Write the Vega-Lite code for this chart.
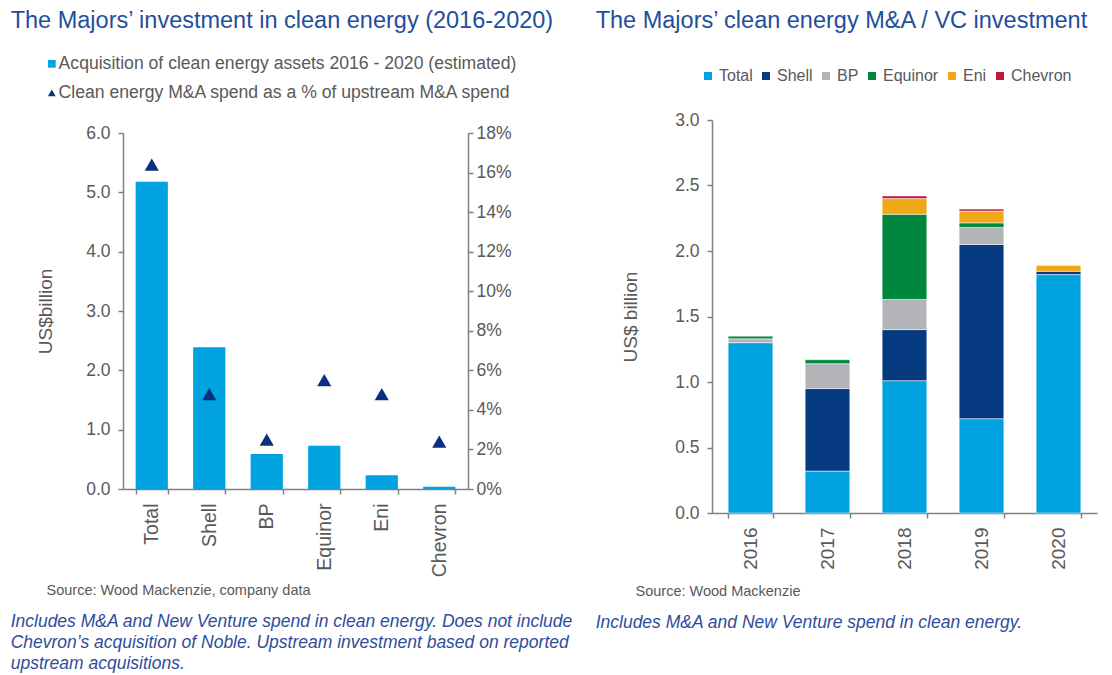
{
  "$schema": "https://vega.github.io/schema/vega-lite/v6.json",
  "background": "white",
  "padding": {"left": 10, "top": 8, "right": 5, "bottom": 5},
  "spacing": 22,
  "columns": 2,
  "align": "none",
  "resolve": {"scale": {"color": "independent", "shape": "independent"}, "legend": {"color": "independent", "shape": "independent"}},
  "config": {
    "font": "Liberation Sans",
    "view": {"stroke": null},
    "axis": {
      "labelFont": "Liberation Sans", "labelFontSize": 17.5, "labelColor": "#595959",
      "titleFont": "Liberation Sans", "titleFontSize": 19, "titleFontWeight": "normal", "titleColor": "#595959",
      "domainColor": "#808080", "tickColor": "#808080", "domainWidth": 1.5, "tickWidth": 1.5, "tickSize": 5, "grid": false
    },
    "legend": {"labelFont": "Liberation Sans", "labelFontSize": 17, "labelColor": "#595959", "labelLimit": 800},
    "title": {"font": "Liberation Sans"}
  },
  "concat": [
    {
      "title": {"text": "The Majors\u2019 investment in clean energy (2016-2020)", "anchor": "start", "fontSize": 23.5, "fontWeight": "normal", "color": "#1F4E9D", "offset": 23},
      "spacing": 0,
      "vconcat": [
        {"width": 10, "height": 14, "data": {"values": []}, "mark": {"type": "point"}, "encoding": {}},
        {
          "title": {
            "text": ["Includes M&A and New Venture spend in clean energy. Does not include", "Chevron\u2019s acquisition of Noble. Upstream investment based on reported", "upstream acquisitions."],
            "orient": "bottom", "anchor": "start", "fontSize": 17.5, "fontStyle": "italic", "fontWeight": "normal", "color": "#2E4D9B", "lineHeight": 21, "offset": 16, "dx": -26
          },
          "width": 345,
          "height": 356,
          "data": {"values": [
            {"company": "Total", "series": "Acquisition of clean energy assets 2016 - 2020 (estimated)", "value": 5.18},
            {"company": "Shell", "series": "Acquisition of clean energy assets 2016 - 2020 (estimated)", "value": 2.39},
            {"company": "BP", "series": "Acquisition of clean energy assets 2016 - 2020 (estimated)", "value": 0.59},
            {"company": "Equinor", "series": "Acquisition of clean energy assets 2016 - 2020 (estimated)", "value": 0.73},
            {"company": "Eni", "series": "Acquisition of clean energy assets 2016 - 2020 (estimated)", "value": 0.23},
            {"company": "Chevron", "series": "Acquisition of clean energy assets 2016 - 2020 (estimated)", "value": 0.04},
            {"company": "Total", "series": "Clean energy M&A spend as a % of upstream M&A spend", "value": 0.164},
            {"company": "Shell", "series": "Clean energy M&A spend as a % of upstream M&A spend", "value": 0.048},
            {"company": "BP", "series": "Clean energy M&A spend as a % of upstream M&A spend", "value": 0.025},
            {"company": "Equinor", "series": "Clean energy M&A spend as a % of upstream M&A spend", "value": 0.055},
            {"company": "Eni", "series": "Clean energy M&A spend as a % of upstream M&A spend", "value": 0.048},
            {"company": "Chevron", "series": "Clean energy M&A spend as a % of upstream M&A spend", "value": 0.024}
          ]},
          "encoding": {
            "x": {
              "field": "company", "type": "nominal", "sort": null,
              "scale": {"paddingInner": 0.44, "paddingOuter": 0.22},
              "axis": {"labelAngle": -90, "labelFontSize": 19.5, "labelPadding": 9, "tickBand": "extent", "title": "Source: Wood Mackenzie, company data", "titleFontSize": 14.5, "titleAnchor": "start", "titleAlign": "left", "titleX": -77, "titleY": 94, "titleBaseline": "top"}
            }
          },
          "layer": [
            {
              "transform": [{"filter": {"field": "series", "equal": "Acquisition of clean energy assets 2016 - 2020 (estimated)"}}],
              "mark": {"type": "bar"},
              "encoding": {
                "y": {"field": "value", "type": "quantitative", "scale": {"domain": [0, 6], "nice": false},
                  "axis": {"title": "US$billion", "values": [0, 1, 2, 3, 4, 5, 6], "format": ".1f", "labelPadding": 8, "titlePadding": 30}},
                "color": {"field": "series", "type": "nominal",
                  "scale": {"domain": ["Acquisition of clean energy assets 2016 - 2020 (estimated)", "Clean energy M&A spend as a % of upstream M&A spend"], "range": ["#00A3E0", "#0B2F7E"]},
                  "legend": {"orient": "none", "legendX": -80, "legendY": -55, "direction": "vertical", "title": null, "symbolSize": 60, "rowPadding": 10, "labelOffset": -2, "labelFontSize": 17.6}}
              }
            },
            {
              "transform": [{"filter": {"field": "series", "equal": "Clean energy M&A spend as a % of upstream M&A spend"}}],
              "mark": {"type": "point", "filled": true, "opacity": 1, "size": 200},
              "encoding": {
                "y": {"field": "value", "type": "quantitative", "scale": {"domain": [0, 0.18], "nice": false},
                  "axis": {"orient": "right", "title": null, "values": [0, 0.02, 0.04, 0.06, 0.08, 0.1, 0.12, 0.14, 0.16, 0.18], "format": ".0%", "labelPadding": 3}},
                "color": {"field": "series", "type": "nominal",
                  "scale": {"domain": ["Acquisition of clean energy assets 2016 - 2020 (estimated)", "Clean energy M&A spend as a % of upstream M&A spend"], "range": ["#00A3E0", "#0B2F7E"]},
                  "legend": {"orient": "none", "legendX": -80, "legendY": -55, "direction": "vertical", "title": null, "symbolSize": 60, "rowPadding": 10, "labelOffset": -2, "labelFontSize": 17.6}},
                "shape": {"field": "series", "type": "nominal",
                  "scale": {"domain": ["Acquisition of clean energy assets 2016 - 2020 (estimated)", "Clean energy M&A spend as a % of upstream M&A spend"], "range": ["square", "triangle-up"]},
                  "legend": {"orient": "none", "legendX": -80, "legendY": -55, "direction": "vertical", "title": null, "symbolSize": 60, "rowPadding": 10, "labelOffset": -2, "labelFontSize": 17.6}}
              }
            }
          ],
          "resolve": {"scale": {"y": "independent"}}
        }
      ]
    },
    {
      "title": {"text": "The Majors\u2019 clean energy M&A / VC investment", "anchor": "start", "fontSize": 23.5, "fontWeight": "normal", "color": "#1F4E9D", "offset": 36, "dx": 0},
      "spacing": 0,
      "vconcat": [
        {"width": 10, "height": 1, "data": {"values": []}, "mark": {"type": "point"}, "encoding": {}},
        {
          "title": {
            "text": ["Includes M&A and New Venture spend in clean energy."],
            "orient": "bottom", "anchor": "start", "fontSize": 17.5, "fontStyle": "italic", "fontWeight": "normal", "color": "#2E4D9B", "lineHeight": 21, "offset": 16, "dx": -26
          },
          "width": 385,
          "height": 393,
          "data": {"values": [
            {"year": "2016", "company": "Total", "k": 1, "value": 1.30},
            {"year": "2016", "company": "BP", "k": 3, "value": 0.03},
            {"year": "2016", "company": "Equinor", "k": 4, "value": 0.02},
            {"year": "2017", "company": "Total", "k": 1, "value": 0.32},
            {"year": "2017", "company": "Shell", "k": 2, "value": 0.63},
            {"year": "2017", "company": "BP", "k": 3, "value": 0.19},
            {"year": "2017", "company": "Equinor", "k": 4, "value": 0.03},
            {"year": "2018", "company": "Total", "k": 1, "value": 1.01},
            {"year": "2018", "company": "Shell", "k": 2, "value": 0.39},
            {"year": "2018", "company": "BP", "k": 3, "value": 0.23},
            {"year": "2018", "company": "Equinor", "k": 4, "value": 0.65},
            {"year": "2018", "company": "Eni", "k": 5, "value": 0.12},
            {"year": "2018", "company": "Chevron", "k": 6, "value": 0.02},
            {"year": "2019", "company": "Total", "k": 1, "value": 0.72},
            {"year": "2019", "company": "Shell", "k": 2, "value": 1.33},
            {"year": "2019", "company": "BP", "k": 3, "value": 0.13},
            {"year": "2019", "company": "Equinor", "k": 4, "value": 0.035},
            {"year": "2019", "company": "Eni", "k": 5, "value": 0.09},
            {"year": "2019", "company": "Chevron", "k": 6, "value": 0.015},
            {"year": "2020", "company": "Total", "k": 1, "value": 1.82},
            {"year": "2020", "company": "Shell", "k": 2, "value": 0.025},
            {"year": "2020", "company": "Eni", "k": 5, "value": 0.045}
          ]},
          "mark": {"type": "bar", "stroke": "white", "strokeWidth": 0.5},
          "encoding": {
            "x": {
              "field": "year", "type": "ordinal",
              "scale": {"paddingInner": 0.42, "paddingOuter": 0.21},
              "axis": {"labelAngle": -90, "labelFontSize": 19, "labelPadding": 9, "tickBand": "extent", "title": "Source: Wood Mackenzie", "titleFontSize": 14.5, "titleAnchor": "start", "titleAlign": "left", "titleX": -77, "titleY": 71, "titleBaseline": "top"}
            },
            "y": {"field": "value", "type": "quantitative", "stack": "zero", "scale": {"domain": [0, 3], "nice": false},
              "axis": {"title": "US$ billion", "values": [0, 0.5, 1, 1.5, 2, 2.5, 3], "format": ".1f", "labelPadding": 8, "titlePadding": 34}},
            "color": {"field": "company", "type": "nominal",
              "scale": {"domain": ["Total", "Shell", "BP", "Equinor", "Eni", "Chevron"], "range": ["#00A3E0", "#063A80", "#B2B4B7", "#00873E", "#F0A818", "#BE1740"]},
              "legend": {"orient": "none", "legendX": -12, "legendY": -42, "direction": "horizontal", "title": null, "symbolSize": 64, "symbolType": "square", "columnPadding": 5, "labelOffset": 3, "labelFontSize": 16, "symbolStrokeWidth": 0}},
            "order": {"field": "k", "type": "quantitative", "sort": "ascending"}
          }
        }
      ]
    }
  ]
}
